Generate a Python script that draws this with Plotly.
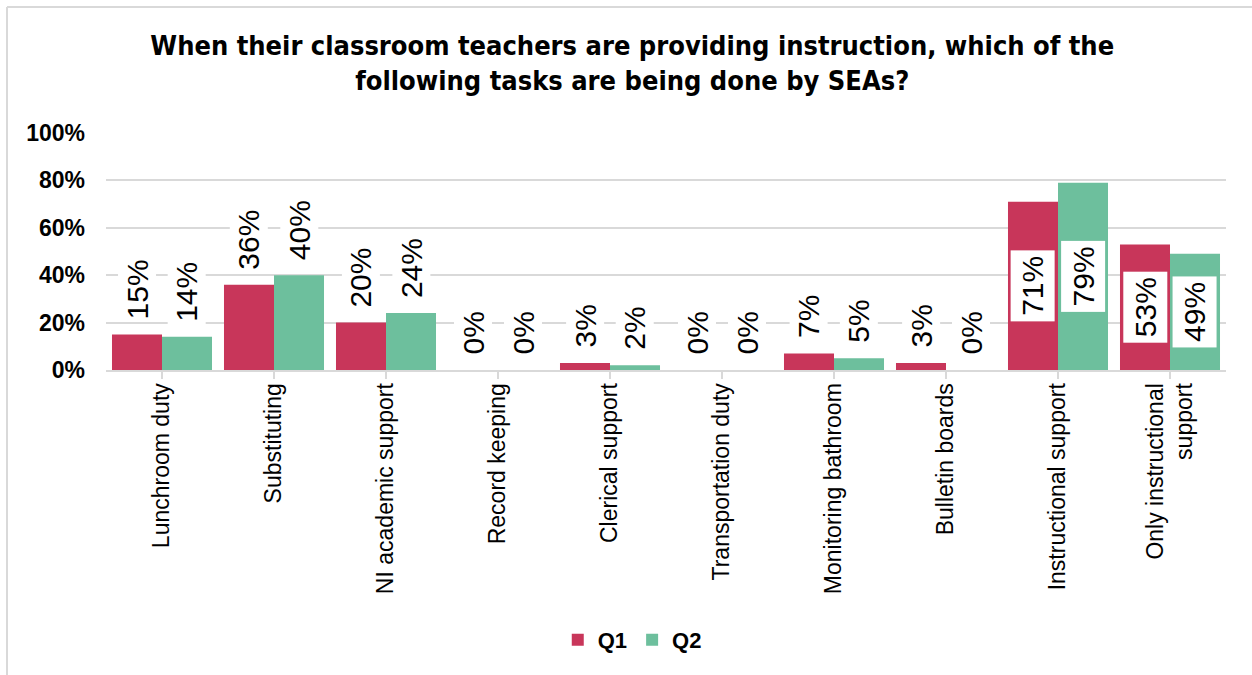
import plotly.graph_objects as go

# Survey results: share of SEAs doing each task while the classroom teacher instructs
categories = [
    "Lunchroom duty",
    "Substituting",
    "NI academic support",
    "Record keeping",
    "Clerical support",
    "Transportation duty",
    "Monitoring bathroom",
    "Bulletin boards",
    "Instructional support",
    "Only instructional<br>support",
]
q1_pct = [15, 36, 20, 0, 3, 0, 7, 3, 71, 53]
q2_pct = [14, 40, 24, 0, 2, 0, 5, 0, 79, 49]
y_ticks = [0, 20, 40, 60, 80, 100]

series = [("Q1", q1_pct, "#C8365A"), ("Q2", q2_pct, "#6DBF9D")]

W, H = 1252, 675
M = dict(l=106, r=26, t=133, b=305)
BARGAP = 0.107
INSIDE_MIN = 45  # labels of taller bars go inside, centred

fig = go.Figure()
for name, vals, color in series:
    fig.add_trace(go.Bar(
        x=list(range(len(categories))),
        y=[v / 100 for v in vals],
        name=name,
        marker=dict(color=color, line=dict(width=0)),
    ))

# data labels, rotated, on white boxes
half = (1 - BARGAP) / 2
for k, (name, vals, color) in enumerate(series):
    off = (k - 0.5) * half
    for i, v in enumerate(vals):
        inside = v >= INSIDE_MIN
        fig.add_annotation(
            x=i + off, y=(v / 200 if inside else v / 100),
            xref="x", yref="y",
            text=f"{v}%", showarrow=False, textangle=-90,
            font=dict(family="Liberation Sans, Arial, sans-serif", size=30, color="#000"),
            bgcolor="white",
            borderpad=5 if inside else 2,
            yanchor="middle" if inside else "bottom",
            yshift=0 if inside else 12,
        )

# chart frame (left and top edges)
pw = W - M["l"] - M["r"]
ph = H - M["t"] - M["b"]
fx = (7 - M["l"]) / pw
fy = 1 + (M["t"] - 7) / ph
fy0 = 1 + (M["t"] - H - 5) / ph
fig.add_shape(type="line", xref="paper", yref="paper", x0=fx, x1=fx, y0=fy0, y1=fy,
              line=dict(color="#D9D9D9", width=2), layer="above")
fig.add_shape(type="line", xref="paper", yref="paper", x0=fx, x1=1 + 40 / pw, y0=fy, y1=fy,
              line=dict(color="#D9D9D9", width=2), layer="above")

fig.update_layout(
    width=W, height=H,
    margin=M,
    paper_bgcolor="white", plot_bgcolor="white",
    barmode="group", bargap=BARGAP, bargroupgap=0,
    title=dict(
        text="When their classroom teachers are providing instruction, which of the<br>"
             "following tasks are being done by SEAs?",
        x=0.505, xanchor="center", xref="container",
        y=0.918, yanchor="top", yref="container",
        font=dict(family="Liberation Sans Narrow, DejaVu Sans Condensed, Arial Narrow, sans-serif",
                  size=27, color="#000", weight="bold"),
    ),
    showlegend=True,
    legend=dict(
        orientation="h", xref="container", yref="container",
        x=0.505, xanchor="center", y=0.052, yanchor="middle",
        font=dict(family="Liberation Sans, Arial, sans-serif", size=22, color="#000", weight="bold"),
        itemwidth=30, traceorder="normal",
    ),
    xaxis=dict(
        tickmode="array",
        tickvals=list(range(len(categories))),
        ticktext=categories,
        tickangle=-90,
        tickson="boundaries",
        ticks="outside", ticklen=7, tickcolor="#D9D9D9", tickwidth=2,
        showline=True, linecolor="#D9D9D9", linewidth=2,
        showgrid=False,
        ticklabelstandoff=-5,
        tickfont=dict(family="Liberation Sans, Arial, sans-serif", size=23, color="#000"),
        range=[-0.5, len(categories) - 0.5],
    ),
    yaxis=dict(
        range=[0, 1],
        tickvals=[t / 100 for t in y_ticks],
        ticktext=[f"{t}%" for t in y_ticks],
        showgrid=True, gridcolor="#D9D9D9", gridwidth=2,
        zeroline=False, showline=False,
        ticks="", ticklabelstandoff=20,
        tickfont=dict(family="Liberation Sans, Arial, sans-serif", size=23, color="#000", weight="bold"),
    ),
)

fig.write_html("out.html")
